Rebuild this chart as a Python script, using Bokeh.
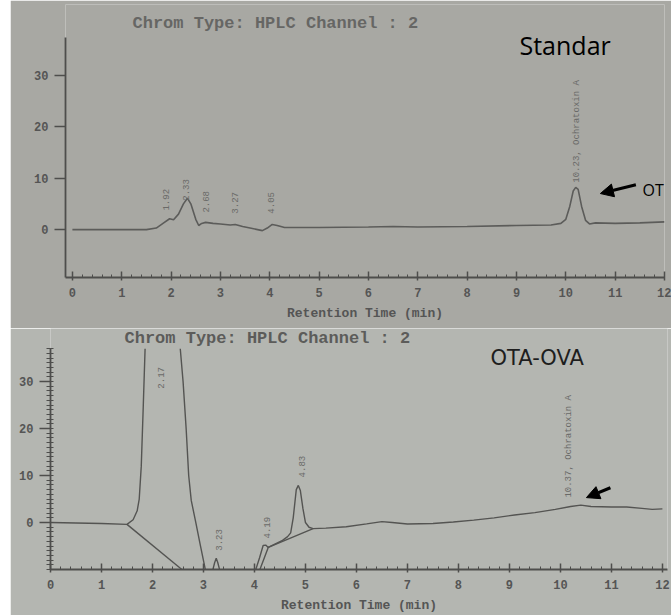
import numpy as np
from bokeh.plotting import figure
from bokeh.models import Range1d, FixedTicker, Label, Arrow, NormalHead, ColumnDataSource
from bokeh.core.properties import value
from bokeh.embed import file_html
from bokeh.resources import INLINE

NAN = float("nan")

# ---------------- data ----------------
# Standard chromatogram (top)
std_time = [0.0, 1.5, 1.7, 1.85, 1.97, 2.05, 2.15, 2.25, 2.33, 2.40, 2.50, 2.56, 2.62, 2.70,
            2.85, 3.0, 3.2, 3.3, 3.45, 3.6, 3.85, 3.95, 4.05, 4.15, 4.3, 5.0, 6.0, 6.5, 7.0,
            8.0, 9.0, 9.7, 9.9, 10.0, 10.08, 10.15, 10.2, 10.25, 10.32, 10.4, 10.48, 10.6,
            11.0, 11.5, 12.0]
std_signal = [0.0, 0.0, 0.3, 1.3, 2.1, 1.9, 3.0, 5.0, 6.1, 5.0, 2.0, 0.8, 1.2, 1.4,
              1.2, 1.1, 0.9, 1.0, 0.6, 0.3, -0.2, 0.3, 1.0, 0.8, 0.4, 0.4, 0.5, 0.6, 0.5,
              0.6, 0.8, 0.9, 1.2, 2.0, 4.5, 7.5, 8.2, 7.8, 4.5, 1.8, 1.1, 1.3,
              1.2, 1.3, 1.5]
std_peak_rt = [1.90, 2.31, 2.70, 3.30, 4.03, 10.22]
std_peak_label = ["1.92", "2.33", "2.68", "3.27", "4.05", "10.23, Ochratoxin A"]
std_label_y = [3.7, 5.6, 3.3, 3.1, 3.1, 9.1]
std_ota = (10.2, 8.2)

# OTA-OVA chromatogram (bottom); the 2.17 peak runs off the top of the scale (NaN gap),
# values of -11 are below the bottom of the scale
ova_time = [0.0, 0.5, 1.0, 1.5, 1.62, 1.7, 1.74, 1.78, 1.82, 1.855, 2.2, 2.545, 2.6, 2.66,
            2.71, 2.76, 2.85, 2.94, 3.04, 3.1, 3.18, 3.22, 3.25, 3.28, 3.32, 3.4, 3.95,
            4.02, 4.1, 4.17, 4.22, 4.27, 4.4, 4.55, 4.65, 4.71, 4.76, 4.82, 4.86, 4.9,
            4.95, 5.0, 5.07, 5.15, 5.4, 5.8, 6.2, 6.5, 6.7, 7.0, 7.5, 7.9, 8.3, 8.7, 9.1,
            9.5, 9.9, 10.2, 10.4, 10.6, 11.0, 11.3, 11.6, 11.8, 12.0]
ova_signal = [0.0, -0.1, -0.2, -0.4, 0.6, 2.5, 5.0, 12.0, 25.0, 37.0, NAN, 37.0, 30.0, 20.0,
              10.0, 4.7, 0.0, -4.9, -10.2, -11.0, -10.2, -8.5, -7.6, -8.5, -10.2, -11.0, -11.0,
              -10.2, -7.5, -4.9, -4.8, -5.3, -4.6, -3.8, -3.0, -2.2, 1.0, 7.0, 7.9, 6.8,
              3.0, 0.0, -1.0, -1.3, -1.2, -0.9, -0.3, 0.2, 0.0, -0.3, -0.2, 0.1, 0.5, 1.0, 1.6,
              2.1, 2.8, 3.4, 3.7, 3.4, 3.3, 3.3, 3.0, 2.8, 2.9]
ova_base_time = [[1.5, 2.6], [4.1, 4.27, 5.15]]
ova_base_signal = [[-0.4, -10.2], [-10.2, -5.3, -1.3]]
ova_peak_rt = [2.17, 3.31, 4.24, 4.94, 10.16]
ova_peak_label = ["2.17", "3.23", "4.19", "4.83", "10.37, Ochratoxin A"]
ova_label_y = [28.5, -6.0, -3.4, 9.6, 5.3]
ova_ota = (10.4, 3.7)

x_ticks = list(range(0, 13))
y_ticks = [0, 10, 20, 30]
title_text = "Chrom Type: HPLC Channel : 2"
x_title = "Retention Time (min)"

# ---------------- styling ----------------
BG1 = "#a8a8a3"
BG2 = "#b4b6b1"
INK = "#4e4e4c"
MONO = "Liberation Mono"


def style(p, y_minor, x_minor, y_bounds):
    for ax in (p.xaxis[0], p.yaxis[0]):
        ax.axis_line_color = INK
        ax.axis_line_width = 1.8
        ax.major_tick_line_color = INK
        ax.major_tick_line_width = 1.5
        ax.minor_tick_line_color = INK
        ax.major_label_text_font = MONO
        ax.major_label_text_font_style = "bold"
        ax.major_label_text_font_size = "12px"
        ax.major_label_text_color = "#555555"
    xa, ya = p.xaxis[0], p.yaxis[0]
    xa.ticker = FixedTicker(ticks=x_ticks, minor_ticks=x_minor)
    ya.ticker = FixedTicker(ticks=y_ticks, minor_ticks=y_minor)
    ya.bounds = y_bounds
    xa.major_tick_in = 6
    xa.major_tick_out = 3
    xa.minor_tick_in = 3
    xa.minor_tick_out = 0
    xa.major_label_standoff = 7
    xa.axis_label = x_title
    xa.axis_label_text_font = MONO
    xa.axis_label_text_font_style = "bold"
    xa.axis_label_text_font_size = "13px"
    xa.axis_label_text_color = "#555555"
    xa.axis_label_standoff = 6
    ya.major_tick_in = 0
    ya.major_tick_out = 11
    ya.minor_tick_in = 3
    ya.minor_tick_out = 4
    ya.major_label_standoff = 6
    p.xgrid.visible = False
    p.ygrid.visible = False


def text_label(p, x, y, text, font, size, color, style="normal"):
    p.add_layout(Label(x=x, y=y, x_units="screen", y_units="screen", text=text,
                       text_font=font, text_font_size=size, text_color=color,
                       text_font_style=style, text_baseline="alphabetic"))


# ---------------- top: standard ----------------
p1 = figure(width=661, height=328, x_range=Range1d(-0.14, 12.0), y_range=Range1d(-9.3, 43.7),
            output_backend="svg", toolbar_location=None,
            min_border_left=55, min_border_right=7, min_border_top=4, min_border_bottom=51,
            background_fill_color=BG1, border_fill_color=BG1, outline_line_color=None,
            margin=(0, 0, 0, 10))
style(p1, [], [i / 5 for i in range(0, 61)], (-9.3, 37.3))
p1.line(std_time, std_signal, line_color="#5c5c5a", line_width=1.6)
src1 = ColumnDataSource(dict(x=std_peak_rt, y=std_label_y, t=std_peak_label))
p1.text(x="x", y="y", text="t", source=src1, angle=90, angle_units="deg",
        text_align="left", text_baseline="middle", text_font=value(MONO),
        text_font_size="9px", text_color="#6a6a68")
text_label(p1, 67, 254, title_text, MONO, "17px", "#666664", "bold")
text_label(p1, 454, 233, "Standar", "Open Sans", "25px", "#000000")
text_label(p1, 577, 88, "OT", "Open Sans", "16px", "#000000")
p1.add_layout(Arrow(end=NormalHead(size=13, fill_color="black", line_color="black"),
                    x_start=std_ota[0] + 1.22, y_start=std_ota[1] + 0.5,
                    x_end=std_ota[0] + 0.5, y_end=std_ota[1] - 1.2,
                    line_color="black", line_width=3))

# ---------------- bottom: OTA-OVA ----------------
p2 = figure(width=661, height=287, x_range=Range1d(0.0, 12.1), y_range=Range1d(-10.0, 41.3),
            output_backend="svg", toolbar_location=None,
            min_border_left=40, min_border_right=4, min_border_top=0, min_border_bottom=46,
            background_fill_color=BG2, border_fill_color=BG2, outline_line_color=None,
            margin=(0, 0, 0, 10))
style(p2, list(range(-10, 38)), [i / 5 for i in range(0, 61)], (-10.0, 37.0))
p2.line(np.array(ova_time), np.array(ova_signal), line_color="#545452", line_width=1.4)
p2.multi_line(ova_base_time, ova_base_signal, line_color="#545452", line_width=1.4)
src2 = ColumnDataSource(dict(x=ova_peak_rt, y=ova_label_y, t=ova_peak_label))
p2.text(x="x", y="y", text="t", source=src2, angle=90, angle_units="deg",
        text_align="left", text_baseline="middle", text_font=value(MONO),
        text_font_size="9px", text_color="#6a6a68")
text_label(p2, 74, 231, title_text, MONO, "17px", "#5c5c5a", "bold")
text_label(p2, 440, 212, "OTA-OVA", "DejaVu Sans", "21px", "#1e1e1e")
p2.add_layout(Arrow(end=NormalHead(size=13, fill_color="black", line_color="black"),
                    x_start=ova_ota[0] + 0.58, y_start=ova_ota[1] + 3.7,
                    x_end=ova_ota[0] + 0.11, y_end=ova_ota[1] + 1.6,
                    line_color="black", line_width=3))

open("out.html", "w").write(file_html([p1, p2], INLINE))
